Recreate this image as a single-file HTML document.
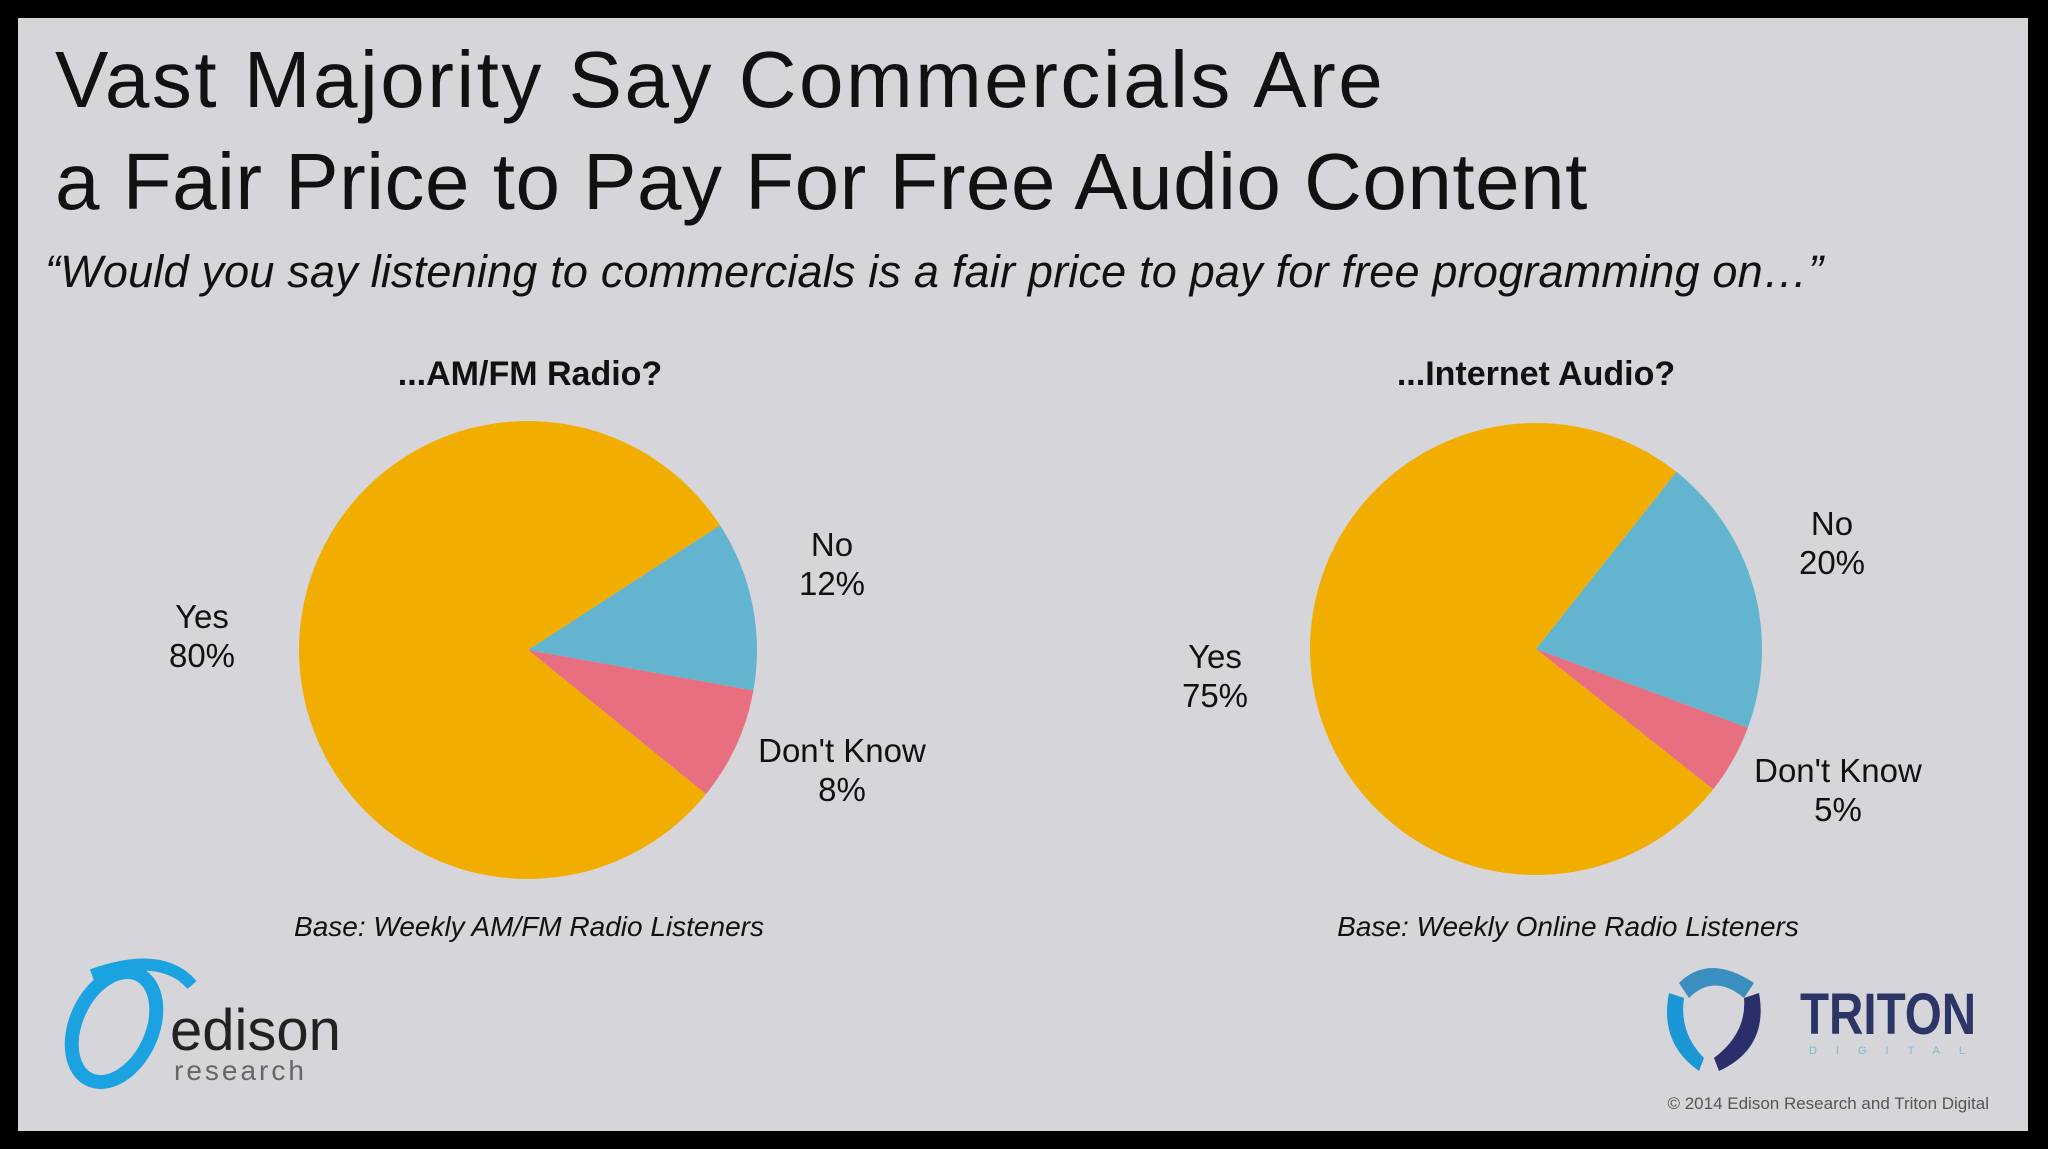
<!DOCTYPE html>
<html><head><meta charset="utf-8"><style>
html,body{margin:0;padding:0;width:2048px;height:1149px;overflow:hidden;background:#000;font-family:"Liberation Sans",sans-serif}
#panel{position:absolute;left:18px;top:18px;width:2010px;height:1113px;background:#d6d5d9}
.t{position:absolute;white-space:nowrap;color:#111}
</style></head><body>
<div id="panel"></div>
<div class="t" style="left:55px;top:34px;font-size:80px;letter-spacing:2.5px">Vast Majority Say Commercials Are</div>
<div class="t" style="left:55px;top:136px;font-size:80px;letter-spacing:0.5px">a Fair Price to Pay For Free Audio Content</div>
<div class="t" style="left:45px;top:246px;font-size:45px;font-style:italic;letter-spacing:0.2px">“Would you say listening to commercials is a fair price to pay for free programming on…”</div>
<svg id="chart" width="2048" height="1149" style="position:absolute;left:0;top:0"></svg>
<div class="t" style="left:52px;top:955px;width:300px;height:140px">
<svg width="300" height="140"><ellipse cx="62" cy="72" rx="38" ry="58" fill="none" stroke="#1aa3e0" stroke-width="14" transform="rotate(25 62 72)"/><path d="M40 20 Q110 -5 140 30" stroke="#1aa3e0" stroke-width="12" fill="none"/></svg>
<div class="t" style="left:118px;top:42px;font-size:58px;color:#222">edison</div>
<div class="t" style="left:122px;top:100px;font-size:28px;color:#666;letter-spacing:3px">research</div>
</div>
<div class="t" style="left:1659px;top:953px;width:330px;height:120px">
<svg width="120" height="120"><path d="M20 30 Q50 0 95 30 L85 45 Q55 20 30 45Z" fill="#3a8fc0"/><path d="M10 40 Q0 90 40 118 L45 105 Q20 80 25 45Z" fill="#1c97d6"/><path d="M100 40 Q110 95 60 118 L55 105 Q88 80 85 45Z" fill="#2a2f6b"/></svg>
<div class="t" style="left:141px;top:28px;font-size:58px;font-weight:bold;color:#2d3566;transform:scaleX(0.82);transform-origin:left top">TRITON</div>
<div class="t" style="left:150px;top:92px;font-size:11px;color:#7fb8d8;letter-spacing:19px">DIGITAL</div>
</div>
<div class="t" style="right:59px;top:1094px;font-size:17px;color:#555">© 2014 Edison Research and Triton Digital</div>
<script>
const pieTitles=["...AM/FM Radio?","...Internet Audio?"];
const categories=["Yes","No","Don't Know"];
const amfmValues=[80,12,8];
const internetValues=[75,20,5];
const bases=["Base: Weekly AM/FM Radio Listeners","Base: Weekly Online Radio Listeners"];
const colors={"Yes":"#f2ae00","No":"#63b5cf","Don't Know":"#e86f80"};
const svg=document.getElementById('chart');
const NS="http://www.w3.org/2000/svg";
function txt(x,y,s,size,opts,name){const t=document.createElementNS(NS,'text');t.setAttribute('x',x);t.setAttribute('y',y);t.setAttribute('text-anchor','middle');t.setAttribute('font-size',size);t.setAttribute('font-family','Liberation Sans, sans-serif');t.setAttribute('fill','#111');if(opts.b)t.setAttribute('font-weight','bold');if(opts.i)t.setAttribute('font-style','italic');t.textContent=s;


svg.appendChild(t);}
const pies=[
 {vals:amfmValues,cx:528,cy:650,r:229,lbl:[[202,628],[832,556],[842,762]]},
 {vals:internetValues,cx:1536,cy:649,r:226,lbl:[[1215,668],[1832,535],[1838,782]]}
];
pies.forEach((p,pi)=>{
 const total=p.vals.reduce((a,b)=>a+b,0);
 const order=[1,2,0];
 let a=pi===0?57:38.4;
 order.forEach(k=>{
  const sweep=p.vals[k]/total*360;
  const a0=a*Math.PI/180,a1=(a+sweep)*Math.PI/180;
  const x0=p.cx+p.r*Math.sin(a0),y0=p.cy-p.r*Math.cos(a0),x1=p.cx+p.r*Math.sin(a1),y1=p.cy-p.r*Math.cos(a1);
  const path=document.createElementNS(NS,'path');
  path.setAttribute('d',`M${p.cx},${p.cy}L${x0},${y0}A${p.r},${p.r} 0 ${sweep>180?1:0} 1 ${x1},${y1}Z`);
  path.setAttribute('fill',colors[categories[k]]);
  
  
  svg.appendChild(path);
  a+=sweep;
 });
 txt(pi===0?530:1536,385,pieTitles[pi],34,{b:1},'pie-title');
 categories.forEach((c,k)=>{const [x,y]=p.lbl[k];
  txt(x,y,c,33,{},'slice-label');
  txt(x,y+39,p.vals[k]+'%',33,{},'slice-value');});
 txt(pi===0?529:1568,936,bases[pi],28,{i:1},'base-note');
});
</script>
</body></html>
